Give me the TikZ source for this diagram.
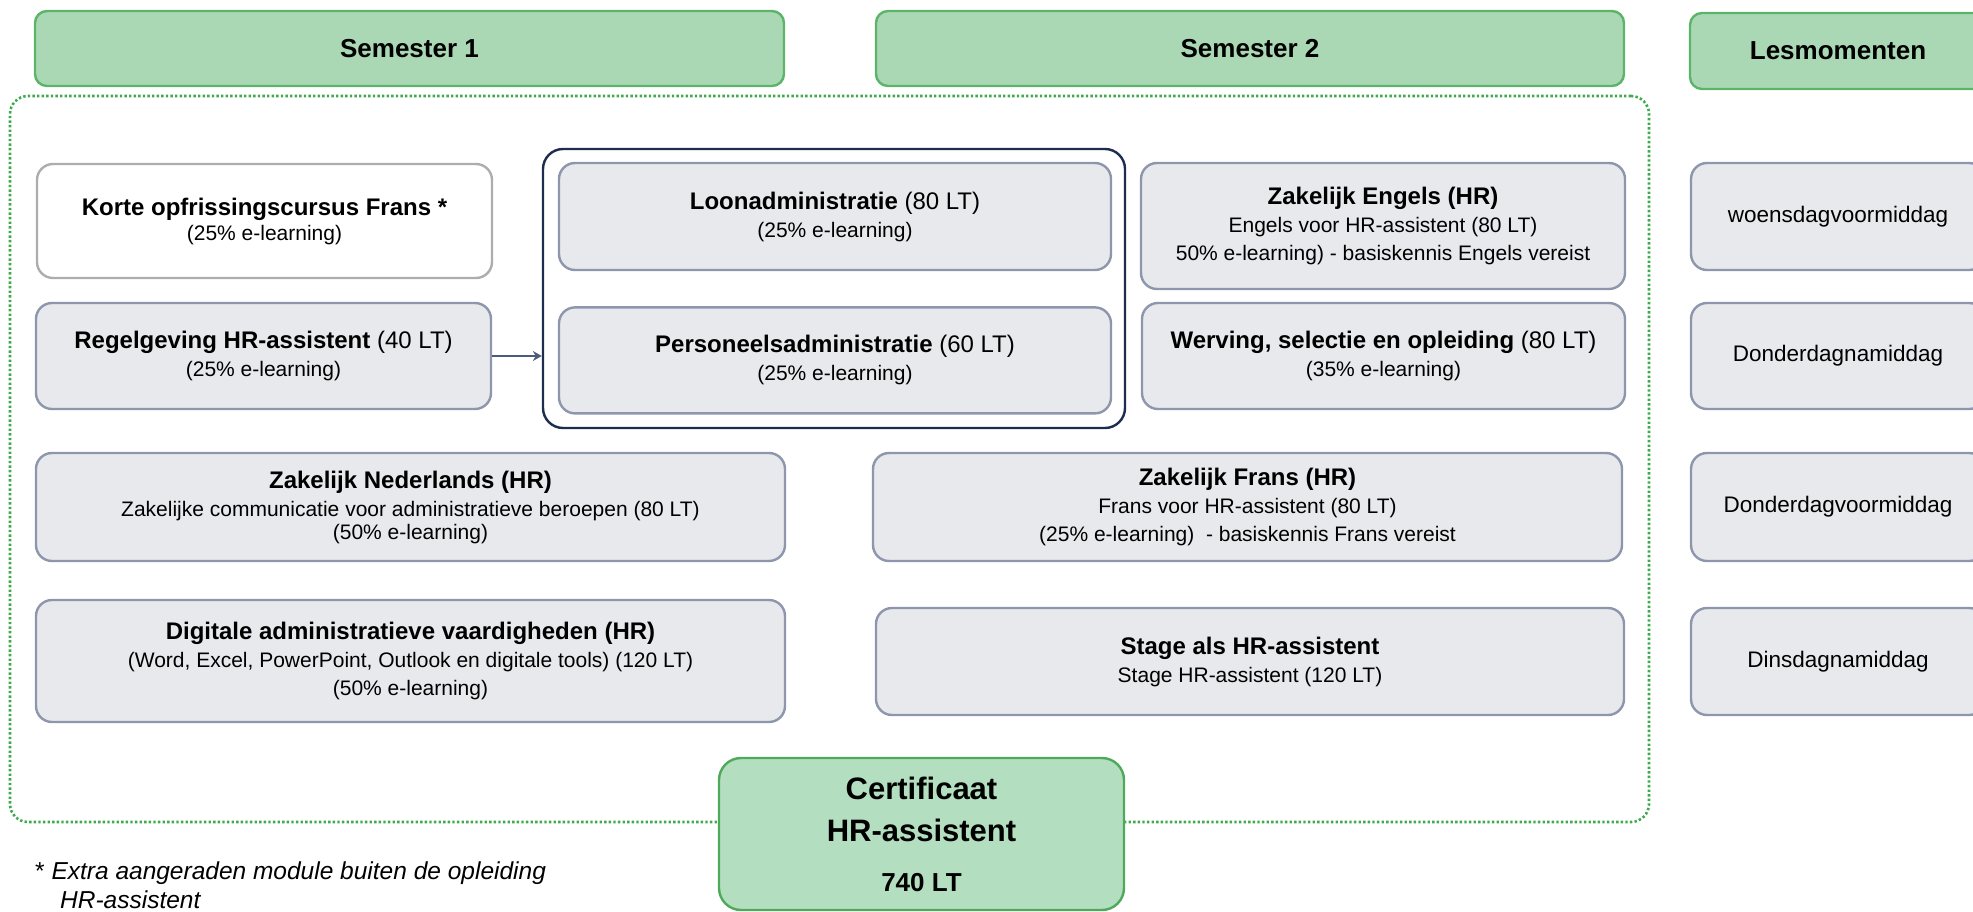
\documentclass[tikz,border=0pt]{standalone}
\usepackage{fontspec}
\setmainfont{Liberation Sans}
\usetikzlibrary{arrows.meta,positioning}
\definecolor{HdrFill}{HTML}{AAD8B4}
\definecolor{HdrLine}{HTML}{5CB46A}
\definecolor{CertFill}{HTML}{B4DEC0}
\definecolor{CertLine}{HTML}{4EAA5A}
\definecolor{ModFill}{HTML}{E8E9ED}
\definecolor{ModLine}{HTML}{8D96AC}
\definecolor{OptLine}{HTML}{ADADAD}
\definecolor{Navy}{HTML}{1E2C4F}
\definecolor{Slate}{HTML}{4B5B7B}
\definecolor{Dots}{HTML}{3DAA4D}
\newcommand{\modfont}{\fontsize{21}{28}\selectfont}
\newcommand{\modhead}{\fontsize{24}{30}\selectfont}
\tikzset{
  header/.style={rounded corners=12pt, draw=HdrLine, fill=HdrFill, line width=2.4pt, font=\fontsize{26}{31}\selectfont\bfseries, minimum height=75pt},
  module/.style={rounded corners=16pt, draw=ModLine, fill=ModFill, line width=2.4pt, align=center, font=\modfont, inner sep=0pt},
  optional/.style={module, draw=OptLine, fill=white},
  moment/.style={module, font=\fontsize{22.5}{28}\selectfont, minimum width=294pt},
  group/.style={rounded corners=20pt, draw=Navy, line width=2.4pt, inner sep=0pt},
  cert/.style={rounded corners=22pt, draw=CertLine, fill=CertFill, line width=2.4pt, align=center, font=\fontsize{31}{42}\selectfont\bfseries},
  arrow/.style={-{Stealth[length=9pt, width=10pt, inset=3pt]}, line width=2pt, draw=Slate},
  dotframe/.style={draw=Dots, line width=2.6pt, dash pattern=on 2.4pt off 2.2pt, rounded corners=18pt, inner sep=0pt}
}
\begin{document}
\begin{tikzpicture}[x=1pt, y=-1pt]
\path[use as bounding box, clip] (0,0) rectangle (1973,912);
% column headers
\node[header, minimum width=749pt] (sem1) at (409.5,48.5) {Semester 1};
\node[header, minimum width=748pt] (sem2) at (1250,48.5) {Semester 2};
\node[header, minimum width=296pt, minimum height=76pt] (lesm) at (1838,51) {Lesmomenten};
% dotted frame round both semesters
\node[dotframe, minimum width=1639pt, minimum height=726pt] (frame) at (829.5,459) {};
% semester 1
\node[optional, minimum width=455pt, minimum height=114pt] (korte) at (264.5,221) {{\modhead\textbf{Korte opfrissingscursus Frans *}}\\[-3pt](25\% e-learning)};
\node[module, minimum width=455pt, minimum height=106pt] (regel) at (263.5,356) {{\modhead\textbf{Regelgeving HR-assistent} (40 LT)}\\(25\% e-learning)};
\node[group, minimum width=582pt, minimum height=279pt] (admin) at (834,288.5) {};
\node[module, minimum width=552pt, minimum height=107pt] (loon) at (835,216.5) {{\modhead\textbf{Loonadministratie} (80 LT)}\\(25\% e-learning)};
\node[module, minimum width=552pt, minimum height=106pt, below=35pt of loon] (pers) {{\modhead\textbf{Personeelsadministratie} (60 LT)}\\(25\% e-learning)};
\node[module, minimum width=749pt, minimum height=108pt] (zakned) at (410.5,507) {{\modhead\textbf{Zakelijk Nederlands (HR)}}\\Zakelijke communicatie voor administratieve beroepen (80 LT)\\[-5pt](50\% e-learning)};
\node[module, minimum width=749pt, minimum height=122pt] (digi) at (410.5,661) {{\modhead\textbf{Digitale administratieve vaardigheden (HR)}}\\(Word, Excel, PowerPoint, Outlook en digitale tools) (120 LT)\\(50\% e-learning)};
% semester 2
\node[module, minimum width=484pt, minimum height=126pt] (engels) at (1383,226) {{\modhead\textbf{Zakelijk Engels (HR)}}\\Engels voor HR-assistent (80 LT)\\50\% e-learning) - basiskennis Engels vereist};
\node[module, minimum width=483pt, minimum height=106pt] (werving) at (1383.5,356) {{\modhead\textbf{Werving, selectie en opleiding} (80 LT)}\\(35\% e-learning)};
\node[module, minimum width=749pt, minimum height=108pt] (zakfr) at (1247.5,507) {{\modhead\textbf{Zakelijk Frans (HR)}}\\Frans voor HR-assistent (80 LT)\\(25\% e-learning)\ \ - basiskennis Frans vereist};
\node[module, minimum width=748pt, minimum height=107pt] (stage) at (1250,661.5) {{\modhead\textbf{Stage als HR-assistent}}\\Stage HR-assistent (120 LT)};
% lesmomenten
\node[moment, minimum height=107pt] (woe) at (1838,216.5) {woensdagvoormiddag};
\node[moment, minimum height=106pt] (dona) at (1838,356) {Donderdagnamiddag};
\node[moment, minimum height=108pt] (donv) at (1838,507) {Donderdagvoormiddag};
\node[moment, minimum height=107pt] (din) at (1838,661.5) {Dinsdagnamiddag};
% certificate
\node[cert, minimum width=405pt, minimum height=152pt] (certif) at (921.5,834) {Certificaat\\HR-assistent\\[8pt]{\fontsize{26}{31}\selectfont 740 LT}};
\draw[arrow] (regel.east) -- (regel.east -| admin.west);
\node[anchor=west, align=left, inner sep=0pt, font=\fontsize{24.5}{29}\selectfont] (note) at (35,885) {*\ \textit{Extra aangeraden module buiten de opleiding}\\\hspace*{25pt}\textit{HR-assistent}};
\end{tikzpicture}
\end{document}
